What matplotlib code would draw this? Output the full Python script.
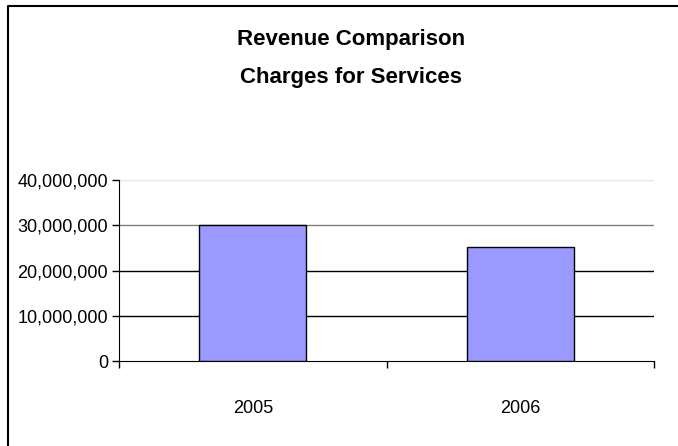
import matplotlib.pyplot as plt
from matplotlib.ticker import FuncFormatter
from matplotlib.lines import Line2D

# revenue data
years = ['2005', '2006']
revenue = [30000000, 25100000]
y_ticks = [0, 10000000, 20000000, 30000000, 40000000]

plt.rcParams['font.family'] = ['Liberation Sans', 'DejaVu Sans']

fig = plt.figure(figsize=(6.78, 4.46), dpi=100)
ax = fig.add_axes([119 / 678, 1 - 361 / 446, (654 - 119) / 678, (361 - 180) / 446])

x = range(len(years))
ax.bar(x, revenue, width=0.4, color='#9999ff', edgecolor='black', linewidth=1, zorder=3)

# gridlines
grid_colors = ['black', 'black', 'black', '#7f7f7f', '#e6e6e6']
for val, col in zip(y_ticks[1:], grid_colors[1:]):
    ax.axhline(val, color=col, linewidth=1, zorder=1)

ax.set_xlim(-0.5, 1.5)
ax.set_ylim(0, 40000000)
ax.set_yticks(y_ticks)
ax.yaxis.set_major_formatter(FuncFormatter(lambda v, p: f'{int(v):,}'))
ax.set_xticks([-0.5, 0.5, 1.5], minor=False)
ax.set_xticklabels(['', '', ''])
ax.set_xticks(list(x), minor=True)
ax.set_xticklabels(years, minor=True)
ax.tick_params(axis='x', which='minor', length=0, pad=28, labelsize=13)
ax.tick_params(axis='x', which='major', length=5, direction='out', width=1)
ax.tick_params(axis='y', length=5, width=1, labelsize=13, pad=3)

for side in ['top', 'right']:
    ax.spines[side].set_visible(False)
ax.spines['left'].set_color('black')
ax.spines['bottom'].set_color('black')

# title
fig.text(351 / 678, 1 - 40 / 446, 'Revenue Comparison', ha='center', va='center',
         fontsize=16, fontweight='bold')
fig.text(351 / 678, 1 - 78 / 446, 'Charges for Services', ha='center', va='center',
         fontsize=16, fontweight='bold')

# chart area border (top and left edges)
fig.add_artist(Line2D([8 / 678, 8 / 678, 1], [0, 1 - 6 / 446, 1 - 6 / 446],
                      transform=fig.transFigure, color='black', linewidth=1.5))

fig.savefig('out.png', dpi=100)
